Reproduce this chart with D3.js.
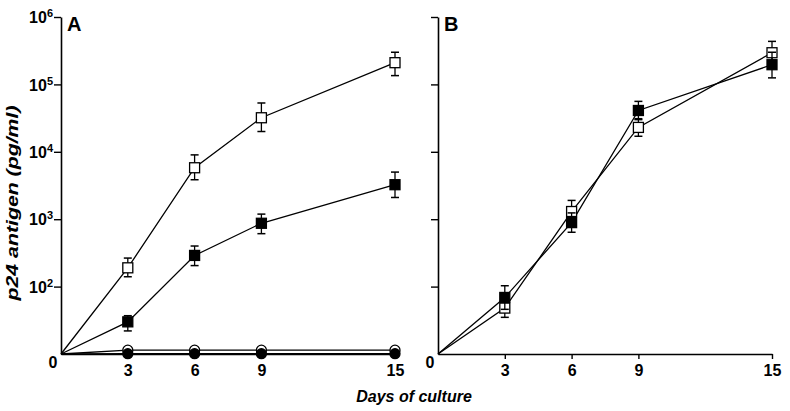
<!DOCTYPE html>
<html>
<head>
<meta charset="utf-8">
<script src="https://cdn.jsdelivr.net/npm/d3@7"></script>
<style>
  body { margin: 0; background: #fff; }
  text { font-family: "Liberation Sans", Arial, sans-serif; font-weight: bold; fill: #000; }
</style>
</head>
<body>
<div id="container"></div>
<script>
let w = 790;
let h = 411;

// data
let days = [0, 3, 6, 9, 15];
let xTicks = [3, 6, 9, 15];
let yTicks = [1e2, 1e3, 1e4, 1e5, 1e6];

// panel A
let openSqA = [10, 190, 5800, 32000, 210000];
let openSqALo = [null, 140, 3850, 20000, 135000];
let openSqAHi = [null, 265, 9000, 53000, 300000];
let fillSqA = [10, 30, 290, 870, 3250];
let fillSqALo = [null, 22, 205, 610, 2100];
let fillSqAHi = [null, 37, 400, 1190, 5000];
let openCircA = [10, 11.4, 11.4, 11.4, 11.4];
let fillCircA = [10, 10.1, 10.1, 10.1, 10.1];

// panel B
let openSqB = [10, 48, 1300, 23000, 295000];
let openSqBLo = [null, 35, 890, 17000, 200000];
let openSqBHi = [null, 66, 1900, 31000, 435000];
let fillSqB = [10, 69, 890, 41000, 196000];
let fillSqBLo = [null, 46, 640, 30000, 125000];
let fillSqBHi = [null, 103, 1240, 56000, 300000];

let viz = d3.select("#container")
  .append("svg")
    .attr("width", w)
    .attr("height", h)
    .style("background-color", "#fff")
;

let y = d3.scaleLog().domain([10, 1e6]).range([354, 17]);

function drawPanel(x0, label, showLabels, series){
  let x = d3.scaleLinear().domain([0, 15]).range([x0, x0 + 334]);
  let g = viz.append("g");

  // y axis
  let ya = g.append("g")
      .attr("transform", "translate(" + x0 + ",0)")
      .call(d3.axisLeft(y).tickValues(yTicks).tickSize(7).tickSizeOuter(0).tickFormat(""));
  ya.select(".domain").attr("stroke-width", 1.6);
  ya.selectAll(".tick line").attr("stroke-width", 1.4);

  if (showLabels){
    ya.selectAll(".tick").each(function(d){
      let t = d3.select(this).append("text")
          .attr("x", -8)
          .attr("dy", "0.36em")
          .attr("text-anchor", "end")
          .style("font-size", "16px");
      t.append("tspan").text("10");
      t.append("tspan").attr("dy", "-0.55em").style("font-size", "11px").text(Math.round(Math.log10(d)));
    });
  }

  // x axis
  let xa = g.append("g")
      .attr("transform", "translate(0,354)")
      .call(d3.axisBottom(x).tickValues(xTicks).tickSize(5).tickSizeOuter(0).tickFormat(d3.format("d")));
  xa.select(".domain").attr("stroke-width", 1.6);
  xa.selectAll(".tick line").attr("stroke-width", 1.4);
  xa.selectAll(".tick text")
      .attr("y", 11)
      .style("font-size", "16px")
      .style("font-family", "Liberation Sans, Arial, sans-serif")
      .style("font-weight", "bold");

  g.append("text")
      .attr("x", x0 - 8)
      .attr("y", 368)
      .attr("text-anchor", "middle")
      .style("font-size", "16px")
      .text("0");

  g.append("text")
      .attr("x", x0 + 6)
      .attr("y", 31)
      .style("font-size", "20px")
      .text(label);

  let line = d3.line().x((d, i) => x(days[i])).y(d => y(d));

  series.forEach(s => {
    g.append("path")
        .attr("d", line(s.vals))
        .attr("fill", "none")
        .attr("stroke", "#000")
        .attr("stroke-width", 1.3);
  });

  series.forEach(s => {
    if (s.lo){
      days.forEach((d, i) => {
        if (s.lo[i] == null) return;
        let cx = x(d);
        g.append("line")
            .attr("x1", cx).attr("x2", cx)
            .attr("y1", y(s.lo[i])).attr("y2", y(s.hi[i]))
            .attr("stroke", "#000").attr("stroke-width", 1.3);
        [s.lo[i], s.hi[i]].forEach(v => {
          g.append("line")
              .attr("x1", cx - 4).attr("x2", cx + 4)
              .attr("y1", y(v)).attr("y2", y(v))
              .attr("stroke", "#000").attr("stroke-width", 1.5);
        });
      });
    }
    days.forEach((d, i) => {
      if (i == 0) return;
      if (s.shape == "square"){
        g.append("rect")
            .attr("x", x(d) - 5).attr("y", y(s.vals[i]) - 5)
            .attr("width", 10).attr("height", 10)
            .attr("fill", s.fill ? "#000" : "#fff")
            .attr("stroke", "#000").attr("stroke-width", 1.3);
      } else {
        g.append("circle")
            .attr("cx", x(d)).attr("cy", y(s.vals[i]))
            .attr("r", 5)
            .attr("fill", s.fill ? "#000" : "#fff")
            .attr("stroke", "#000").attr("stroke-width", 1.3);
      }
    });
  });
}

drawPanel(61, "A", true, [
  {vals: openCircA, shape: "circle", fill: false},
  {vals: fillCircA, shape: "circle", fill: true},
  {vals: openSqA, lo: openSqALo, hi: openSqAHi, shape: "square", fill: false},
  {vals: fillSqA, lo: fillSqALo, hi: fillSqAHi, shape: "square", fill: true}
]);

drawPanel(438, "B", false, [
  {vals: openSqB, lo: openSqBLo, hi: openSqBHi, shape: "square", fill: false},
  {vals: fillSqB, lo: fillSqBLo, hi: fillSqBHi, shape: "square", fill: true}
]);

viz.append("text")
    .attr("transform", "translate(18,203) rotate(-90)")
    .attr("text-anchor", "middle")
    .attr("textLength", 195)
    .attr("lengthAdjust", "spacingAndGlyphs")
    .style("font-size", "16px")
    .style("font-style", "italic")
    .text("p24 antigen (pg/ml)");

viz.append("text")
    .attr("x", 414)
    .attr("y", 402)
    .attr("text-anchor", "middle")
    .style("font-size", "16px")
    .style("font-style", "italic")
    .text("Days of culture");
</script>
</body>
</html>
